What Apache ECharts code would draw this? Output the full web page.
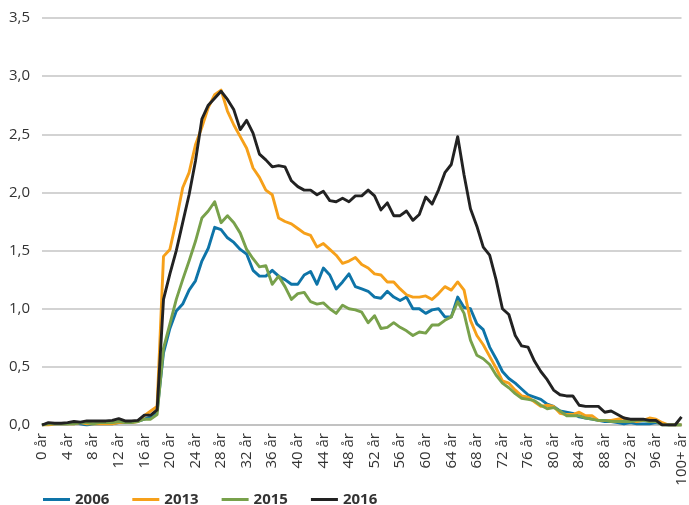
<!DOCTYPE html>
<html>
<head>
<meta charset="utf-8">
<script src="https://cdn.jsdelivr.net/npm/echarts@6/dist/echarts.min.js"></script>
<style>
html,body{margin:0;padding:0;background:#fff;}
#chart{width:689px;height:505px;}
</style>
</head>
<body>
<div id="chart"></div>
<script>
var categories = ["0 år","1 år","2 år","3 år","4 år","5 år","6 år","7 år","8 år","9 år",
"10 år","11 år","12 år","13 år","14 år","15 år","16 år","17 år","18 år","19 år",
"20 år","21 år","22 år","23 år","24 år","25 år","26 år","27 år","28 år","29 år",
"30 år","31 år","32 år","33 år","34 år","35 år","36 år","37 år","38 år","39 år",
"40 år","41 år","42 år","43 år","44 år","45 år","46 år","47 år","48 år","49 år",
"50 år","51 år","52 år","53 år","54 år","55 år","56 år","57 år","58 år","59 år",
"60 år","61 år","62 år","63 år","64 år","65 år","66 år","67 år","68 år","69 år",
"70 år","71 år","72 år","73 år","74 år","75 år","76 år","77 år","78 år","79 år",
"80 år","81 år","82 år","83 år","84 år","85 år","86 år","87 år","88 år","89 år",
"90 år","91 år","92 år","93 år","94 år","95 år","96 år","97 år","98 år","99 år",
"100+ år"];

var seriesNames = ["2006", "2013", "2015", "2016"];

var values2006 = [0.00,0.01,0.01,0.01,0.01,0.02,0.01,0.00,0.01,0.01,
0.01,0.01,0.02,0.02,0.03,0.03,0.05,0.07,0.12,0.62,
0.83,0.98,1.04,1.16,1.24,1.41,1.52,1.70,1.68,1.61,
1.57,1.51,1.47,1.33,1.28,1.28,1.33,1.28,1.25,1.21,
1.21,1.29,1.32,1.21,1.35,1.29,1.17,1.23,1.30,1.19,
1.17,1.15,1.10,1.09,1.15,1.10,1.07,1.10,1.00,1.00,
0.96,0.99,1.00,0.93,0.93,1.10,1.01,1.00,0.87,0.82,
0.67,0.57,0.46,0.40,0.36,0.31,0.26,0.24,0.22,0.18,
0.16,0.12,0.11,0.10,0.07,0.06,0.05,0.04,0.03,0.03,
0.02,0.01,0.02,0.01,0.01,0.01,0.02,0.01,0.00,0.00,
0.00];

var values2013 = [0.00,0.00,0.01,0.01,0.01,0.01,0.02,0.01,0.01,0.01,
0.01,0.01,0.02,0.02,0.02,0.03,0.08,0.12,0.16,1.45,
1.51,1.76,2.04,2.17,2.41,2.56,2.73,2.84,2.88,2.70,
2.58,2.48,2.38,2.21,2.13,2.02,1.98,1.78,1.75,1.73,
1.69,1.65,1.63,1.53,1.56,1.51,1.46,1.39,1.41,1.44,
1.38,1.35,1.30,1.29,1.23,1.23,1.17,1.12,1.10,1.10,
1.11,1.08,1.13,1.19,1.16,1.23,1.16,0.90,0.77,0.69,
0.59,0.49,0.38,0.36,0.30,0.25,0.24,0.20,0.16,0.17,
0.16,0.10,0.09,0.09,0.11,0.08,0.08,0.04,0.04,0.04,
0.05,0.06,0.04,0.03,0.04,0.06,0.05,0.02,0.00,0.00,
0.00];

var values2015 = [0.00,0.01,0.01,0.01,0.01,0.01,0.02,0.02,0.01,0.02,
0.02,0.02,0.03,0.02,0.02,0.03,0.05,0.05,0.09,0.66,
0.87,1.08,1.25,1.41,1.58,1.78,1.84,1.92,1.74,1.80,
1.74,1.65,1.51,1.43,1.36,1.37,1.21,1.28,1.19,1.08,
1.13,1.14,1.06,1.04,1.05,1.00,0.96,1.03,1.00,0.99,
0.97,0.88,0.94,0.83,0.84,0.88,0.84,0.81,0.77,0.80,
0.79,0.86,0.86,0.90,0.93,1.06,0.96,0.73,0.60,0.57,
0.52,0.43,0.36,0.32,0.27,0.23,0.22,0.21,0.17,0.14,
0.15,0.12,0.08,0.08,0.08,0.06,0.05,0.04,0.04,0.03,
0.03,0.03,0.03,0.04,0.04,0.03,0.03,0.00,0.00,0.00,
0.00];

var values2016 = [0.00,0.02,0.015,0.015,0.02,0.03,0.025,0.035,0.035,0.035,
0.035,0.04,0.055,0.035,0.035,0.04,0.085,0.085,0.13,1.08,
1.30,1.50,1.74,1.98,2.27,2.63,2.75,2.81,2.87,2.80,
2.71,2.54,2.62,2.51,2.33,2.28,2.22,2.23,2.22,2.10,
2.05,2.02,2.02,1.98,2.01,1.93,1.92,1.95,1.92,1.97,
1.97,2.02,1.97,1.85,1.91,1.80,1.80,1.84,1.76,1.81,
1.96,1.90,2.02,2.17,2.24,2.48,2.15,1.86,1.71,1.53,
1.46,1.25,1.00,0.95,0.77,0.68,0.67,0.55,0.46,0.39,
0.30,0.26,0.25,0.25,0.17,0.16,0.16,0.16,0.11,0.12,
0.09,0.06,0.05,0.05,0.05,0.04,0.04,0.00,0.00,0.00,
0.07];

var yTicks = [0, 0.5, 1, 1.5, 2, 2.5, 3, 3.5];

var colors = ["#0e74a8", "#f6a01a", "#78a14b", "#222222"];

var chart = echarts.init(document.getElementById('chart'), null, {renderer: 'canvas'});

var allValues = [values2006, values2013, values2015, values2016];
var series = seriesNames.map(function (name, k) {
  return {
    name: name,
    type: 'line',
    data: allValues[k],
    symbol: 'none',
    showSymbol: false,
    smooth: false,
    lineStyle: {width: 2.9, color: colors[k], join: 'round'},
    itemStyle: {color: colors[k]},
    emphasis: {disabled: true},
    animation: false
  };
});

chart.setOption({
  animation: false,
  textStyle: {fontFamily: 'Open Sans'},
  grid: {left: 42, right: -3, top: 18, bottom: 80, containLabel: false},
  legend: {
    left: 38, top: 487,
    icon: 'rect',
    itemWidth: 27, itemHeight: 3,
    itemGap: 23,
    textStyle: {fontFamily: 'Open Sans', fontSize: 15, fontWeight: 'bold', color: '#333333'},
    data: seriesNames
  },
  xAxis: {
    type: 'category',
    data: categories,
    boundaryGap: false,
    axisLine: {show: true, lineStyle: {color: '#bdbdbd', width: 1.5}},
    axisTick: {show: false},
    axisLabel: {
      interval: 3,
      rotate: 90,
      margin: 8,
      fontFamily: 'Open Sans',
      fontSize: 15,
      color: '#333333',
      padding: [0, 0, 10, 0]
    },
    splitLine: {show: false}
  },
  yAxis: {
    type: 'value',
    min: yTicks[0],
    max: yTicks[yTicks.length - 1],
    interval: 0.5,
    axisLine: {show: false},
    axisTick: {show: false},
    axisLabel: {
      margin: 12,
      fontFamily: 'Open Sans',
      fontSize: 15,
      color: '#333333',
      formatter: function (v) { return v.toFixed(1).replace('.', ','); }
    },
    splitLine: {show: true, lineStyle: {color: '#c4c4c4', width: 1.5}}
  },
  series: series
});
</script>
</body>
</html>
